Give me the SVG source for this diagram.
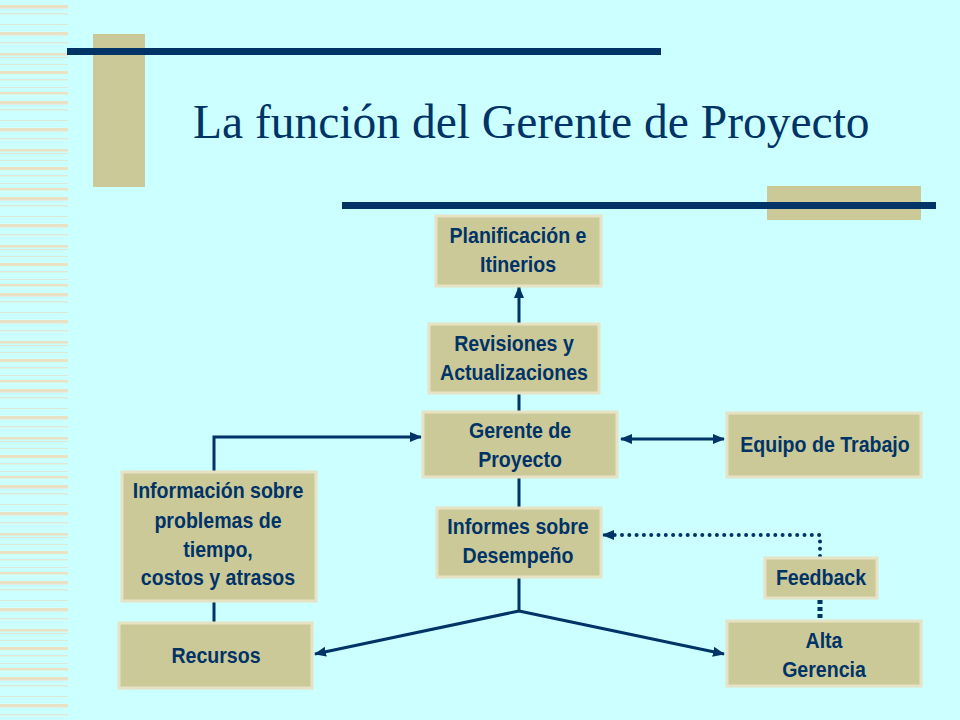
<svg xmlns="http://www.w3.org/2000/svg" width="960" height="720" viewBox="0 0 960 720">
<defs>
<style>
.box{fill:#CCC999;stroke:#E6E2C4;stroke-width:3}
.lbl{font-family:"Liberation Sans",Arial,sans-serif;font-weight:bold;font-size:21.5px;fill:#003366;text-anchor:middle}
.ln{stroke:#003366;stroke-width:3;fill:none}
.dot{stroke:#003366;stroke-width:4;fill:none;stroke-dasharray:0 7.3;stroke-linecap:round}
.sq{stroke:#003366;stroke-width:5;fill:none;stroke-dasharray:4 3}
.st{fill:#E9E1C3}
.st2{fill:#DDE9D6}
</style>
<marker id="ah" markerUnits="userSpaceOnUse" markerWidth="12" markerHeight="10" refX="11" refY="5" orient="auto-start-reverse" viewBox="0 0 12 10">
<path d="M0,0 L12,5 L0,10 z" fill="#003366"/>
</marker>
<pattern id="stripes" patternUnits="userSpaceOnUse" x="0" y="0" width="68" height="96">
<rect class="st" x="0" y="5" width="68" height="3.5"/>
<rect class="st2" x="0" y="13" width="68" height="1.5"/>
<rect class="st2" x="0" y="24" width="68" height="1"/>
<rect class="st" x="0" y="32" width="68" height="3.5"/>
<rect class="st2" x="0" y="42" width="68" height="1.5"/>
<rect class="st" x="0" y="53" width="68" height="2.5"/>
<rect class="st2" x="0" y="57" width="68" height="1"/>
<rect class="st2" x="0" y="64" width="68" height="1"/>
<rect class="st" x="0" y="71" width="68" height="3"/>
<rect class="st2" x="0" y="79" width="68" height="1.5"/>
<rect class="st2" x="0" y="87" width="68" height="1"/>
<rect class="st" x="0" y="92" width="68" height="2.5"/>
</pattern>
</defs>
<rect x="0" y="0" width="960" height="720" fill="#CCFFFF"/>
<rect x="0" y="0" width="68" height="720" fill="url(#stripes)"/>
<g id="decor">
<rect x="93" y="34" width="52" height="153" fill="#CCC999"/>
<rect x="67" y="48" width="594" height="7" fill="#003366"/>
<rect x="767" y="186" width="154" height="34" fill="#CCC999"/>
<rect x="342" y="202" width="594" height="7" fill="#003366"/>
</g>
<text id="title" x="193" y="138" font-family="'Liberation Serif','Times New Roman',serif" font-size="47.5" fill="#003366">La función del Gerente de Proyecto</text>
<g id="connectors">
<line class="ln" x1="519" y1="323" x2="519" y2="287" marker-end="url(#ah)"/>
<line class="ln" x1="519" y1="394" x2="519" y2="411"/>
<line class="ln" x1="519" y1="478" x2="519" y2="507"/>
<polyline class="ln" points="519,578 519,611"/>
<line class="ln" x1="519" y1="611" x2="315" y2="654" marker-end="url(#ah)"/>
<line class="ln" x1="519" y1="611" x2="724" y2="654" marker-end="url(#ah)"/>
<polyline class="ln" points="214,471 214,437 421,437" marker-end="url(#ah)"/>
<line class="ln" x1="214" y1="588" x2="214" y2="622"/>
<line class="ln" x1="621" y1="439" x2="724" y2="439" marker-start="url(#ah)" marker-end="url(#ah)"/>
<polyline class="dot" points="820,556 820,535 614,535"/>
<line class="ln" x1="614" y1="535" x2="603" y2="535" marker-end="url(#ah)" stroke-width="0.1"/>
<line class="sq" x1="820" y1="600" x2="820" y2="620"/>
</g>
<g id="planificacion"><rect class="box" x="436" y="216" width="165" height="70"/><g transform="translate(518 0) scale(0.91 1)"><text class="lbl" x="0" y="243">Planificación e</text><text class="lbl" x="0" y="272">Itinerios</text></g></g>
<g id="revisiones"><rect class="box" x="429" y="324" width="170" height="69"/><g transform="translate(514 0) scale(0.91 1)"><text class="lbl" x="0" y="351">Revisiones y</text><text class="lbl" x="0" y="380">Actualizaciones</text></g></g>
<g id="gerente"><rect class="box" x="423" y="412" width="194" height="65"/><g transform="translate(520 0) scale(0.91 1)"><text class="lbl" x="0" y="438">Gerente de</text><text class="lbl" x="0" y="467">Proyecto</text></g></g>
<g id="equipo"><rect class="box" x="727" y="413" width="194" height="64"/><g transform="translate(825 0) scale(0.91 1)"><text class="lbl" x="0" y="452">Equipo de Trabajo</text></g></g>
<g id="informacion"><rect class="box" x="122" y="472" width="194" height="129"/><g transform="translate(218 0) scale(0.91 1)"><text class="lbl" x="0" y="498">Información sobre</text><text class="lbl" x="0" y="528">problemas de</text><text class="lbl" x="0" y="557">tiempo,</text><text class="lbl" x="0" y="585">costos y atrasos</text></g></g>
<g id="informes"><rect class="box" x="437" y="508" width="164" height="69"/><g transform="translate(518 0) scale(0.91 1)"><text class="lbl" x="0" y="534">Informes sobre</text><text class="lbl" x="0" y="563">Desempeño</text></g></g>
<g id="feedback"><rect class="box" x="765" y="558" width="112" height="40"/><g transform="translate(821 0) scale(0.91 1)"><text class="lbl" x="0" y="585">Feedback</text></g></g>
<g id="recursos"><rect class="box" x="119" y="623" width="193" height="65"/><g transform="translate(216 0) scale(0.91 1)"><text class="lbl" x="0" y="663">Recursos</text></g></g>
<g id="alta"><rect class="box" x="727" y="621" width="194" height="65"/><g transform="translate(824 0) scale(0.91 1)"><text class="lbl" x="0" y="648">Alta</text><text class="lbl" x="0" y="677">Gerencia</text></g></g>
</svg>
